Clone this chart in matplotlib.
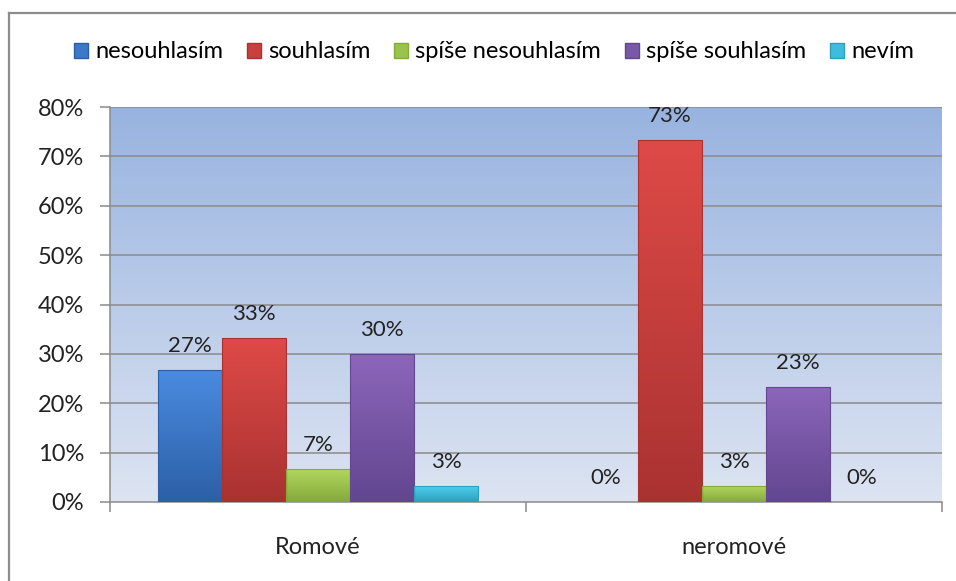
import numpy as np
import matplotlib
matplotlib.use("Agg")
import matplotlib.pyplot as plt
from matplotlib.colors import LinearSegmentedColormap
from matplotlib.patches import Rectangle
from matplotlib.lines import Line2D

plt.rcParams['font.family'] = ['Lato', 'DejaVu Sans']

categories = ["Romové", "neromové"]
series = ["nesouhlasím", "souhlasím", "spíše nesouhlasím", "spíše souhlasím", "nevím"]
values = {
    "nesouhlasím":       [26.7, 0.0],
    "souhlasím":         [33.3, 73.3],
    "spíše nesouhlasím": [6.7, 3.3],
    "spíše souhlasím":   [30.0, 23.3],
    "nevím":             [3.3, 0.0],
}
yticks = [0, 10, 20, 30, 40, 50, 60, 70, 80]

colors_top = ["#4a8be0", "#de4a47", "#b3d860", "#8d66bb", "#52d2ee"]
colors_bot = ["#2c5fa6", "#a93231", "#86a93a", "#624690", "#2a9fbf"]
colors_mid = ["#3c78c8", "#c93f3d", "#9bc24a", "#7a58a8", "#3ebcdc"]

W, H = 956, 581
fig = plt.figure(figsize=(W / 100, H / 100), dpi=100)

# outer frame (top and left visible)
fig.add_artist(Line2D([9 / W, 9 / W], [0, 1 - 13 / H], transform=fig.transFigure, color="#8c8c8c", lw=1.6))
fig.add_artist(Line2D([9 / W, 1], [1 - 13 / H, 1 - 13 / H], transform=fig.transFigure, color="#8c8c8c", lw=1.6))

ax = fig.add_axes([110 / W, (H - 502) / H, (942 - 110) / W, (502 - 107) / H])
ax.set_xlim(-0.5, 1.5)
ax.set_ylim(0, 80)

# background gradient
bg = LinearSegmentedColormap.from_list("bg", ["#dde4f2", "#98b3e0"])
grad = np.linspace(0, 1, 256).reshape(-1, 1)
ax.imshow(grad, cmap=bg, aspect="auto", extent=(-0.5, 1.5, 0, 80), origin="lower", zorder=0)

for y in yticks[1:]:
    ax.axhline(y, color="#8a8a8a", lw=1.1, zorder=1)

n = len(series)
w = 0.154
x = np.arange(len(categories))
for i, s in enumerate(series):
    xs = x + (i - (n - 1) / 2) * w
    vals = values[s]
    bars = ax.bar(xs, vals, width=w, color=colors_mid[i], edgecolor="none", zorder=2, label=s)
    cmap = LinearSegmentedColormap.from_list("c%d" % i, [colors_bot[i], colors_top[i]])
    for b, v in zip(bars, vals):
        if v <= 0:
            continue
        x0 = b.get_x()
        im = ax.imshow(grad, cmap=cmap, aspect="auto", extent=(x0, x0 + w, 0, v), origin="lower", zorder=3)
        im.set_clip_path(b)
        ax.add_patch(Rectangle((x0, 0), w, v, fill=False, edgecolor=colors_bot[i], lw=0.8, zorder=4))
    for xx, v in zip(xs, vals):
        ax.annotate(f"{round(v)}%", (xx, v), xytext=(0, 10), textcoords="offset points",
                    ha="center", va="bottom", fontsize=16, color="#222222", zorder=5)

ax.set_xlim(-0.5, 1.5)
ax.set_ylim(0, 80)
ax.set_yticks(yticks)
ax.set_yticklabels([f"{t}%" for t in yticks])
ax.set_xticks(x)
ax.set_xticklabels(categories)
ax.set_xticks([-0.5, 0.5, 1.5], minor=True)
ax.tick_params(axis="x", which="major", length=0, pad=25, labelsize=17, colors="#222222")
ax.tick_params(axis="x", which="minor", length=7, color="#8a8a8a", width=1.1)
ax.tick_params(axis="y", length=7.2, color="#8a8a8a", width=1.1, pad=11.5, labelsize=17, colors="#222222")
for side in ["top", "right"]:
    ax.spines[side].set_visible(False)
for side in ["left", "bottom"]:
    ax.spines[side].set_color("#8a8a8a")
    ax.spines[side].set_linewidth(1.1)

handles = [Rectangle((0, 0), 1, 1, facecolor=colors_mid[i], edgecolor=colors_bot[i]) for i in range(n)]
fig.legend(handles, series, loc="center", bbox_to_anchor=(494 / W, 1 - 52 / H), ncol=n, frameon=False,
           fontsize=17, handlelength=0.6, handleheight=0.6, handletextpad=0.3, columnspacing=1.0)

fig.savefig("out.png", dpi=100)
